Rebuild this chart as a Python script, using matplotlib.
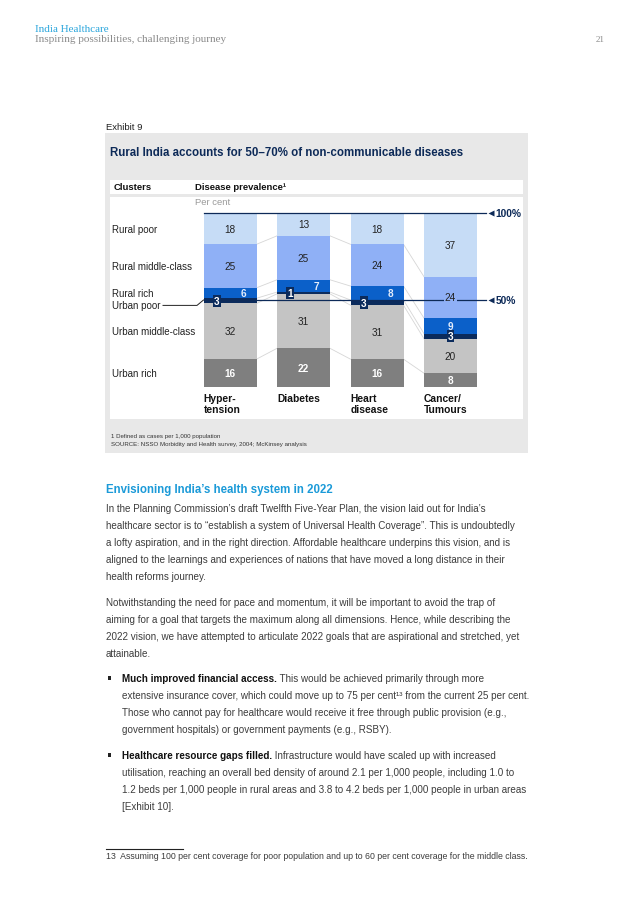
import numpy as np
import matplotlib
matplotlib.use("Agg")
import matplotlib.pyplot as plt
from matplotlib.patches import Rectangle

plt.rcParams['font.family'] = ['Liberation Sans', 'DejaVu Sans']

# chart data, per cent of disease prevalence by cluster
diseases = ['Hyper-\ntension', 'Diabetes', 'Heart\ndisease', 'Cancer/\nTumours']
clusters = ['Rural poor', 'Rural middle-class', 'Rural rich', 'Urban poor',
            'Urban middle-class', 'Urban rich']
rural_poor = [18, 13, 18, 37]
rural_middle = [25, 25, 24, 24]
rural_rich = [6, 7, 8, 9]
urban_poor = [3, 1, 3, 3]
urban_middle = [32, 31, 31, 20]
urban_rich = [16, 22, 16, 8]

colors = ['#c6dcf6', '#8fb0f6', '#0b60c9', '#0b2b5c', '#c4c4c4', '#7f7f7f']
navy = '#0d2a58'
body_col = '#3c3c3c'

para1 = ["In the Planning Commission\u2019s draft Twelfth Five-Year Plan, the vision laid out for India\u2019s",
         "healthcare sector is to \u201cestablish a system of Universal Health Coverage\u201d. This is undoubtedly",
         "a lofty aspiration, and in the right direction. Affordable healthcare underpins this vision, and is",
         "aligned to the learnings and experiences of nations that have moved a long distance in their",
         "health reforms journey."]
para2 = ["Notwithstanding the need for pace and momentum, it will be important to avoid the trap of",
         "aiming for a goal that targets the maximum along all dimensions. Hence, while describing the",
         "2022 vision, we have attempted to articulate 2022 goals that are aspirational and stretched, yet",
         "attainable."]
bullet1 = ["Much improved financial access.",
           " This would be achieved primarily through more",
           "extensive insurance cover, which could move up to 75 per cent\u00b9\u00b3 from the current 25 per cent.",
           "Those who cannot pay for healthcare would receive it free through public provision (e.g.,",
           "government hospitals) or government payments (e.g., RSBY)."]
bullet2 = ["Healthcare resource gaps filled.",
           " Infrastructure would have scaled up with increased",
           "utilisation, reaching an overall bed density of around 2.1 per 1,000 people, including 1.0 to",
           "1.2 beds per 1,000 people in rural areas and 3.8 to 4.2 beds per 1,000 people in urban areas",
           "[Exhibit 10]."]

fig = plt.figure(figsize=(6.38, 9.03), dpi=100)
page = fig.add_axes([0, 0, 1, 1])
page.set_xlim(0, 638)
page.set_ylim(903, 0)
page.axis('off')
rend = fig.canvas.get_renderer()

# running header
serif = ['Liberation Serif', 'DejaVu Serif']
page.text(35, 29, 'India Healthcare', family=serif, fontsize=8, color='#2ba6dc', va='center')
page.text(35, 40, 'Inspiring possibilities, challenging journey', family=serif, fontsize=8,
          color='#8a8a8a', va='center')
page.text(605, 40, '21', family=serif, fontsize=6.5, color='#8a8a8a', ha='right', va='center')

# exhibit frame
page.text(106, 127, 'Exhibit 9', fontsize=6.8, color='#222222', va='center')
page.add_patch(Rectangle((105, 134), 423, 320, fc='#e8e8e8', ec='none'))
page.add_patch(Rectangle((110, 181), 413, 14, fc='white', ec='none'))
page.add_patch(Rectangle((110, 198), 413, 222, fc='white', ec='none'))
page.text(110, 153, 'Rural India accounts for 50\u201370% of non-communicable diseases',
          fontsize=8.3, weight='bold', color=navy, va='center')
page.text(114, 188, 'Clusters', fontsize=6.8, weight='bold', color='#111111', va='center')
page.text(195, 188, 'Disease prevalence\u00b9', fontsize=6.8, weight='bold', color='#111111', va='center')
page.text(195, 203, 'Per cent', fontsize=6.8, color='#9a9a9a', va='center')
page.text(111, 437, '1 Defined as cases per 1,000 population', fontsize=4.4, color='#333333', va='center')
page.text(111, 445, 'SOURCE: NSSO Morbidity and Health survey, 2004; McKinsey analysis',
          fontsize=4.4, color='#333333', va='center')

# chart axes: 0% at y=388px, 100% at y=214px, bars 73.5px apart
ppu = 73.5
ax = fig.add_axes([105 / 638, 1 - 388 / 903, 423 / 638, 174 / 903])
ax.set_xlim(-125 / ppu, 298 / ppu)
ax.set_ylim(0, 100)
ax.axis('off')

values = np.array([rural_poor, rural_middle, rural_rich, urban_poor, urban_middle, urban_rich], dtype=float)
shares = values / values.sum(axis=0) * 100
tops = 100 - np.vstack([np.zeros(len(diseases)), np.cumsum(shares, axis=0)[:-1]])
bottoms = tops - shares
xs = np.arange(len(diseases))
bw = 53 / ppu

for k in range(len(clusters)):
    ax.bar(xs, shares[k], bottom=bottoms[k], width=bw, color=colors[k], linewidth=0, zorder=2)

# thin connectors between segment boundaries
for i in range(len(diseases) - 1):
    for k in range(1, len(clusters)):
        ax.plot([xs[i] + bw / 2, xs[i + 1] - bw / 2], [tops[k, i], tops[k, i + 1]],
                color='#d6d6d6', lw=0.6, zorder=1)

# segment labels
for i in range(len(diseases)):
    for k in range(len(clusters)):
        yc = bottoms[k, i] + shares[k, i] / 2
        v = '%d' % values[k, i]
        if k in (0, 1, 4):
            kw = dict(color='#222222')
            if k == 1 and i == 3:
                kw['bbox'] = dict(boxstyle='square,pad=0.1', fc=colors[1], ec='none')
            ax.text(xs[i], yc, v, ha='center', va='center', fontsize=7.2, zorder=6, **kw)
        elif k == 2:
            dx = 0.18 if i < 3 else 0
            ax.text(xs[i] + dx, yc, v, ha='center', va='center', fontsize=7.2, weight='bold',
                    color='#e4edfb', zorder=6)
        elif k == 3:
            dx = -0.18 if i < 3 else 0
            ax.text(xs[i] + dx, yc, v, ha='center', va='center', fontsize=7.2, weight='bold',
                    color='white', zorder=6,
                    bbox=dict(boxstyle='square,pad=0.12', fc=colors[3], ec='none'))
        else:
            ax.text(xs[i], yc, v, ha='center', va='center', fontsize=7.2, weight='bold',
                    color='white', zorder=6)

# 100% / 50% markers
x0 = -bw / 2
x1 = (486 - 230) / ppu
for lvl, lab in [(100, '100%'), (50, '50%')]:
    ax.plot([x0, x1], [lvl, lvl], color=navy, lw=0.9, zorder=5, clip_on=False)
    ax.plot(x1 + 0.07, lvl, marker='<', ms=4.5, color=navy, mec='none', clip_on=False, zorder=5)
    ax.text(x1 + 0.13, lvl, lab, fontsize=7.4, weight='bold', color=navy, va='center', ha='left')

# cluster labels on the left, level with the first bar
lx = (112 - 230) / ppu
for k, name in enumerate(clusters):
    yc = bottoms[k, 0] + shares[k, 0] / 2
    if k == 3:
        yc -= 2.6
        ax.plot([(163 - 230) / ppu, (197 - 230) / ppu, x0], [yc, yc, 50],
                color='#222222', lw=0.7, clip_on=False, zorder=5)
    ax.text(lx, yc, name, fontsize=7, color='#222222', va='center', ha='left')

# disease labels below bars
for i, d in enumerate(diseases):
    ax.text(xs[i] - bw / 2, -3.4, d, fontsize=7.4, weight='bold', color='#111111',
            va='top', ha='left', linespacing=1.15)

# body text
page.text(106, 490, 'Envisioning India\u2019s health system in 2022', fontsize=8.3,
          weight='bold', color='#1b9ad8', va='center')
fs = 7.1
step = 17
y = 509
for line in para1:
    page.text(106, y, line, fontsize=fs, color=body_col, va='center')
    y += step
y = 603
for line in para2:
    page.text(106, y, line, fontsize=fs, color=body_col, va='center')
    y += step
for y, lines in [(679, bullet1), (756, bullet2)]:
    page.add_patch(Rectangle((107.5, y - 1.8), 3.6, 3.6, fc='#222222', ec='none'))
    t = page.text(122, y, lines[0], fontsize=fs, weight='bold', color='#111111', va='center')
    w = t.get_window_extent(renderer=rend).width
    page.text(122 + w, y, lines[1], fontsize=fs, color=body_col, va='center')
    for line in lines[2:]:
        y += step
        page.text(122, y, line, fontsize=fs, color=body_col, va='center')

# footnote
page.plot([106, 183], [850, 850], color='#222222', lw=0.8)
page.text(106, 857, '13  Assuming 100 per cent coverage for poor population and up to 60 per cent '
          'coverage for the middle class.', fontsize=6.3, color=body_col, va='center')

fig.savefig('out.png', dpi=100)
